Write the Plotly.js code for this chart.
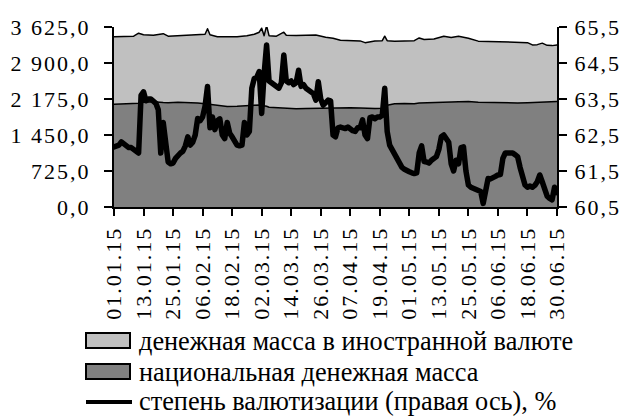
<!DOCTYPE html>
<html>
<head>
<meta charset="utf-8">
<script src="https://cdn.plot.ly/plotly-3.0.1.min.js"></script>
<style>
html,body{margin:0;padding:0;background:#fff;}
#chart{width:627px;height:416px;}
.xtick text,.ytick text,.y2tick text{letter-spacing:2px;}
.scatterlayer .js-line{stroke-linejoin:round;stroke-linecap:round;}
</style>
</head>
<body>
<div id="chart"></div>
<script>
// ---- data ----
const areaDates = ['2015-01-01','2015-01-05','2015-01-09','2015-01-11','2015-01-13','2015-01-17','2015-01-21','2015-01-23','2015-01-27','2015-01-31',
 '2015-02-04','2015-02-07','2015-02-08','2015-02-09','2015-02-12','2015-02-16','2015-02-20','2015-02-24','2015-02-27',
 '2015-03-01','2015-03-02','2015-03-03','2015-03-04','2015-03-05','2015-03-08','2015-03-11','2015-03-12','2015-03-16','2015-03-20','2015-03-24','2015-03-28','2015-03-31',
 '2015-04-03','2015-04-07','2015-04-11','2015-04-13','2015-04-17','2015-04-20','2015-04-21','2015-04-22','2015-04-25','2015-04-29',
 '2015-05-03','2015-05-05','2015-05-07','2015-05-11','2015-05-15','2015-05-18','2015-05-21','2015-05-25','2015-05-29',
 '2015-06-02','2015-06-06','2015-06-10','2015-06-14','2015-06-18','2015-06-20','2015-06-22','2015-06-24','2015-06-26','2015-06-28','2015-06-30'];
const nationalMass = [2070,2075,2080,2090,2110,2120,2105,2100,2110,2110,
 2095,2080,2075,2070,2040,2025,2030,2050,2050,
 2055,2050,2040,2030,2010,2000,1995,1990,1980,1985,1990,1985,1995,
 2000,2000,1995,1990,1985,1990,2010,2050,2080,2085,
 2080,2095,2100,2110,2120,2115,2120,2125,2110,
 2105,2100,2090,2095,2100,2105,2110,2105,2110,2115,2125];
const foreignMass = [1360,1355,1360,1410,1360,1340,1385,1340,1340,1345,
 1365,1400,1515,1400,1390,1400,1400,1400,1430,
 1465,1550,1410,1620,1440,1440,1525,1470,1475,1475,1475,1435,1405,
 1360,1355,1350,1320,1360,1360,1430,1300,1260,1260,
 1270,1310,1275,1275,1320,1300,1320,1275,1230,
 1230,1230,1235,1235,1210,1160,1160,1195,1145,1135,1140];

const lineDates = [
 '2015-01-01','2015-01-02','2015-01-03','2015-01-04','2015-01-05','2015-01-06','2015-01-07','2015-01-08','2015-01-09','2015-01-10','2015-01-11','2015-01-12','2015-01-13','2015-01-14','2015-01-15','2015-01-16','2015-01-17','2015-01-18','2015-01-19','2015-01-20','2015-01-21','2015-01-22','2015-01-23','2015-01-24','2015-01-25','2015-01-26','2015-01-27','2015-01-28','2015-01-29','2015-01-30','2015-01-31',
 '2015-02-01','2015-02-02','2015-02-03','2015-02-04','2015-02-05','2015-02-06','2015-02-07','2015-02-08','2015-02-09','2015-02-10','2015-02-11','2015-02-12','2015-02-13','2015-02-14','2015-02-15','2015-02-16','2015-02-17','2015-02-18','2015-02-19','2015-02-20','2015-02-21','2015-02-22','2015-02-23','2015-02-24','2015-02-25','2015-02-26','2015-02-27','2015-02-28',
 '2015-03-01','2015-03-02','2015-03-03','2015-03-04','2015-03-05','2015-03-06','2015-03-07','2015-03-08','2015-03-09','2015-03-10','2015-03-11','2015-03-12','2015-03-13','2015-03-14','2015-03-15','2015-03-16','2015-03-17','2015-03-18','2015-03-19','2015-03-20','2015-03-21','2015-03-22','2015-03-23','2015-03-24','2015-03-25','2015-03-26','2015-03-27','2015-03-28','2015-03-29','2015-03-30','2015-03-31',
 '2015-04-01','2015-04-02','2015-04-03','2015-04-04','2015-04-05','2015-04-06','2015-04-07','2015-04-08','2015-04-09','2015-04-10','2015-04-11','2015-04-12','2015-04-13','2015-04-14','2015-04-15','2015-04-16','2015-04-17','2015-04-18','2015-04-19','2015-04-20','2015-04-21','2015-04-22','2015-04-23','2015-04-24','2015-04-25','2015-04-26','2015-04-27','2015-04-28','2015-04-29','2015-04-30',
 '2015-05-01','2015-05-02','2015-05-03','2015-05-04','2015-05-05','2015-05-06','2015-05-07','2015-05-08','2015-05-09','2015-05-10','2015-05-11','2015-05-12','2015-05-13','2015-05-14','2015-05-15','2015-05-16','2015-05-17','2015-05-18','2015-05-19','2015-05-20','2015-05-21','2015-05-22','2015-05-23','2015-05-24','2015-05-25','2015-05-26','2015-05-27','2015-05-28','2015-05-29','2015-05-30','2015-05-31',
 '2015-06-01','2015-06-02','2015-06-03','2015-06-04','2015-06-05','2015-06-06','2015-06-07','2015-06-08','2015-06-09','2015-06-10','2015-06-11','2015-06-12','2015-06-13','2015-06-14','2015-06-15','2015-06-16','2015-06-17','2015-06-18','2015-06-19','2015-06-20','2015-06-21','2015-06-22','2015-06-23','2015-06-24','2015-06-25','2015-06-26','2015-06-27','2015-06-28','2015-06-29','2015-06-30'];
const dollarization = [
 62.17,62.2,62.22,62.31,62.25,62.17,62.15,62.15,62.1,62.05,
 62.0,63.6,63.7,63.45,63.5,63.5,63.45,63.38,63.2,62.0,
 62.85,62.2,61.75,61.7,61.72,61.85,61.95,62.0,62.05,62.2,
 62.45,62.22,62.3,62.5,62.96,62.9,63.0,63.3,63.85,62.7,
 63.0,62.65,62.9,62.95,62.5,62.4,62.85,62.55,62.45,62.3,
 62.22,62.2,62.22,62.85,62.5,62.6,63.8,64.07,64.1,64.26,
 63.1,64.2,65.0,64.0,63.95,63.9,63.85,63.8,63.95,64.72,
 64.0,63.95,64.0,63.9,63.95,64.3,63.85,63.9,63.8,63.75,
 63.7,63.65,63.47,63.98,63.5,63.33,63.4,63.47,63.45,62.5,
 62.45,62.7,62.72,62.7,62.68,62.72,62.65,62.62,62.6,62.7,
 62.7,62.92,62.5,62.4,62.98,63.0,62.95,63.0,63.0,63.05,
 63.8,62.6,62.22,62.1,61.94,61.8,61.67,61.6,61.55,61.5,
 61.48,61.45,61.43,61.45,62.0,62.2,61.76,61.75,61.72,61.8,
 61.85,61.9,62.1,62.45,62.5,62.4,62.3,61.7,61.5,61.8,
 61.7,62.15,62.17,61.5,61.11,61.05,61.02,60.98,60.93,60.93,
 60.6,61.0,61.29,61.28,61.3,61.35,61.39,61.4,61.85,62.0,
 62.0,62.0,62.0,61.95,61.9,61.6,61.39,61.11,61.05,61.08,
 61.05,61.1,61.2,61.39,61.2,61.02,60.8,60.74,60.7,61.05,60.9];

const tickDates = ['2015-01-01','2015-01-13','2015-01-25','2015-02-06','2015-02-18','2015-03-02','2015-03-14','2015-03-26','2015-04-07','2015-04-19','2015-05-01','2015-05-13','2015-05-25','2015-06-06','2015-06-18','2015-06-30'];
const tickLabels = ['01.01.15','13.01.15','25.01.15','06.02.15','18.02.15','02.03.15','14.03.15','26.03.15','07.04.15','19.04.15','01.05.15','13.05.15','25.05.15','06.06.15','18.06.15','30.06.15'];
const legendLabels = ['денежная масса в иностранной валюте','национальная денежная масса','степень валютизации (правая ось), %'];

// ---- chart ----
const FONT = 'Liberation Serif';
const tf = {family:FONT, size:22, color:'#000'};
const traces = [
 {x: areaDates, y: nationalMass, type:'scatter', mode:'lines', stackgroup:'one',
  fillcolor:'#808080', line:{color:'#000', width:1.5}, showlegend:false, hoverinfo:'skip'},
 {x: areaDates, y: foreignMass, type:'scatter', mode:'lines', stackgroup:'one',
  fillcolor:'#c0c0c0', line:{color:'#000', width:1.5}, showlegend:false, hoverinfo:'skip'},
 {x: lineDates, y: dollarization, type:'scatter', mode:'lines', yaxis:'y2',
  line:{color:'#000', width:5.5}, showlegend:false, hoverinfo:'skip'}
];

// legend (paper coordinates relative to plot area)
const W = 443, H = 180, L = 114, T = 27;
const px = v => (v - L) / W;
const py = v => (T + H - v) / H;
const shapes = [
 {type:'rect', xref:'paper', yref:'paper', x0:px(86), x1:px(130), y0:py(333), y1:py(348), fillcolor:'#c0c0c0', line:{color:'#000', width:2}},
 {type:'rect', xref:'paper', yref:'paper', x0:px(86), x1:px(130), y0:py(364), y1:py(379), fillcolor:'#808080', line:{color:'#000', width:2}},
 {type:'line', xref:'paper', yref:'paper', x0:px(86), x1:px(132), y0:py(402), y1:py(402), line:{color:'#000', width:4}}
];
const legY = [341, 372, 402];
const annotations = legendLabels.map((t, i) => ({
 text: t, xref:'paper', yref:'paper', x: px(137), y: py(legY[i]), xanchor:'left', yanchor:'middle',
 showarrow:false, font:{family:FONT, size:26.3, color:'#000'}
}));

const layout = {
 width:627, height:416,
 margin:{l:L, r:627-L-W, t:T, b:416-T-H, pad:0},
 paper_bgcolor:'#fff', plot_bgcolor:'#fff',
 separators:', ',
 showlegend:false,
 font:{family:FONT, size:22, color:'#000'},
 xaxis:{type:'date', range:['2015-01-01','2015-06-30'], tickmode:'array', tickvals:tickDates, ticktext:tickLabels,
  tickangle:-90, ticks:'outside', ticklen:7, tickwidth:2, tickcolor:'#000', showline:true, linecolor:'#000', linewidth:2,
  showgrid:false, zeroline:false, tickfont:tf, ticklabelstandoff:2},
 yaxis:{range:[0,3625], tickmode:'linear', tick0:0, dtick:725, tickformat:',.1f', ticks:'outside', ticklen:8, tickwidth:2,
  tickcolor:'#000', showline:true, linecolor:'#000', linewidth:2, showgrid:false, zeroline:false,
  tickfont:tf, ticklabelstandoff:9},
 yaxis2:{overlaying:'y', side:'right', range:[60.5,65.5], tickmode:'linear', tick0:60.5, dtick:1, tickformat:'.1f',
  ticks:'outside', ticklen:8, tickwidth:2, tickcolor:'#000', showline:true, linecolor:'#000', linewidth:2,
  showgrid:false, zeroline:false, tickfont:tf, ticklabelstandoff:3},
 shapes: shapes,
 annotations: annotations
};

Plotly.newPlot('chart', traces, layout, {staticPlot:true, displayModeBar:false});
</script>
</body>
</html>
